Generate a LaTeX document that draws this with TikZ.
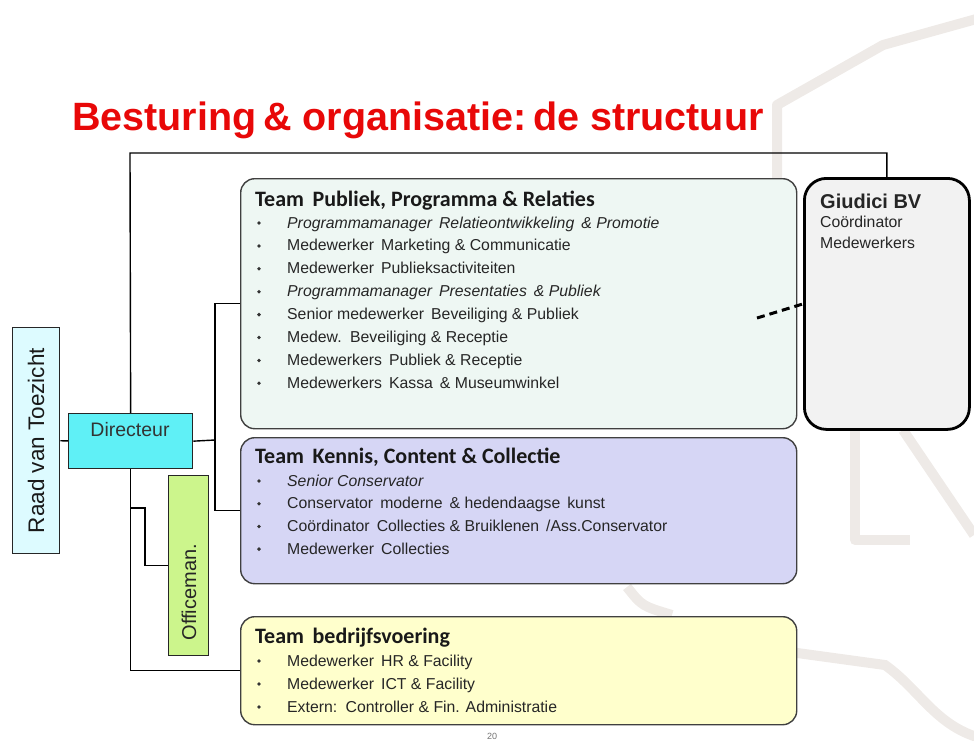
\documentclass[tikz,border=0pt]{standalone}
\usepackage{fontspec}
\setmainfont{Liberation Sans}
\newfontfamily\hdfont{Carlito}
\usetikzlibrary{calc}

\definecolor{titlered}{RGB}{232,8,8}
\definecolor{wmgray}{RGB}{238,234,231}
\definecolor{pubfill}{RGB}{238,247,243}
\definecolor{kenfill}{RGB}{214,214,245}
\definecolor{bedfill}{RGB}{255,255,204}
\definecolor{giufill}{RGB}{242,242,242}
\definecolor{raadfill}{RGB}{221,251,255}
\definecolor{dirfill}{RGB}{95,240,246}
\definecolor{offfill}{RGB}{204,245,140}

\tikzset{
  teambox/.style={draw=black!75,line width=1.4pt,rounded corners=14pt,anchor=north west,inner sep=0pt},
  smallbox/.style={draw=black!85,line width=1.3pt,anchor=north west,inner sep=0pt},
  teamhead/.style={anchor=base west,inner sep=0pt,font=\hdfont\bfseries\fontsize{22}{24}\selectfont,text=black!90},
  item/.style={anchor=base west,inner sep=0pt,font=\fontsize{15.8}{17}\selectfont,text=black!85},
  dot/.style={circle,fill=black!80,inner sep=0pt,minimum size=3.8pt},
  link/.style={line width=1.4pt,black}
}

\begin{document}
\begin{tikzpicture}[x=1pt,y=-1pt]
\useasboundingbox (0,0) rectangle (974,740);

% watermark in the back
\draw[wmgray,line width=10pt,line join=round] (777,180) -- (777,105) -- (883,45) -- (980,18);
\draw[wmgray,line width=10pt,line join=round] (855,430) -- (855,540) -- (910,540);
\draw[wmgray,line width=10pt] (903,430) -- (974,535);
\draw[wmgray,line width=10pt] (627,587) .. controls (642,606) .. (672,615);
\draw[wmgray,line width=10pt] (790,652) -- (885,665) .. controls (920,690) and (935,725) .. (980,738);

% title
\node[anchor=base west,inner sep=0pt,text=titlered,font=\bfseries\fontsize{39.5}{42}\selectfont] (title) at (72,130) {Besturing\,\& organisatie:\,de structuur};

% boxes
\node[teambox,fill=pubfill,minimum width=556pt,minimum height=250pt] (pub) at (240,178) {};
\node[teambox,fill=kenfill,minimum width=556pt,minimum height=146pt] (ken) at (240,437) {};
\node[teambox,fill=bedfill,minimum width=556pt,minimum height=108pt] (bed) at (240,616) {};
\node[draw=black,line width=2.8pt,rounded corners=22pt,anchor=north west,inner sep=0pt,fill=giufill,minimum width=165pt,minimum height=251pt] (giu) at (803,177) {};

\node[smallbox,fill=raadfill,minimum width=47pt,minimum height=226pt] (raad) at (12,327) {};
\node[rotate=90,font=\fontsize{22.5}{24}\selectfont,text=black!90] (raadtxt) at (raad.center) {Raad van Toezicht};
\node[smallbox,fill=dirfill,minimum width=124pt,minimum height=55pt] (dir) at (68,413) {};
\node[font=\fontsize{19.5}{21}\selectfont,text=black!80] (dirtxt) at (130,430) {Directeur};
\node[smallbox,fill=offfill,minimum width=40pt,minimum height=180pt] (off) at (168,475) {};
\node[rotate=90,anchor=west,font=\fontsize{20}{22}\selectfont,text=black!85] (offtxt) at (189,644) {Officeman.};

% connectors
\coordinate (topbar) at (130,153);
\coordinate (split) at (215,440);
\coordinate (offbranch) at (130,508);
\coordinate (dashend) at (757,318);
\draw[link] (raad) -- (dir);
\draw[link] (dir.north) -- (topbar) -| (giu.north);
\draw[link] (dir.south) |- (bed.west);
\draw[link] (dir.east) -- (split);
\draw[link] (pub.west) -| (split) |- (ken.west);
\draw[link] (offbranch) -- ++(15,0) |- (off.west);
\draw[black,line width=3pt,dash pattern=on 8pt off 5pt] (dashend) -- (giu.west);

% team texts
\node[teamhead] (pubhead) at (255,206) {Team\, Publiek, Programma \& Relaties};
\foreach \txt [count=\i] in {{\itshape Programmamanager\, Relatieontwikkeling\, \& Promotie},
    Medewerker\, Marketing \& Communicatie,
    Medewerker\, Publieksactiviteiten,
    {\itshape Programmamanager\, Presentaties\, \& Publiek},
    Senior medewerker\, Beveiliging \& Publiek,
    Medew.\, Beveiliging \& Receptie,
    Medewerkers\, Publiek \& Receptie,
    Medewerkers\, Kassa\, \& Museumwinkel}
  {
  \node[dot] (pubdot\i) at (259,{223+22.9*(\i-1)}) {};
  \node[item] (pubitem\i) at (287,{228+22.9*(\i-1)}) {\txt};
  }

\node[teamhead] (kenhead) at (255,463) {Team\, Kennis, Content \& Collectie};
\foreach \txt [count=\i] in {{\itshape Senior Conservator},
    Conservator\, moderne\, \& hedendaagse\, kunst,
    Coördinator\, Collecties \& Bruiklenen\, /Ass.Conservator,
    Medewerker\, Collecties}
  {
  \node[dot] (kendot\i) at (259,{481+22.7*(\i-1)}) {};
  \node[item] (kenitem\i) at (287,{486+22.7*(\i-1)}) {\txt};
  }

\node[teamhead] (bedhead) at (255,643) {Team\, bedrijfsvoering};
\foreach \txt [count=\i] in {Medewerker\, HR \& Facility,
    Medewerker\, ICT \& Facility,
    Extern:\, Controller \& Fin. Administratie}
  {
  \node[dot] (beddot\i) at (259,{661+23*(\i-1)}) {};
  \node[item] (beditem\i) at (287,{666+23*(\i-1)}) {\txt};
  }

\node[anchor=base west,inner sep=0pt,font=\bfseries\fontsize{20}{22}\selectfont,text=black!85] (giuhead) at (820,208) {Giudici BV};
\node[item] (giuitem1) at (820,227) {Coördinator};
\node[item] (giuitem2) at (820,248) {Medewerkers};

\node[font=\fontsize{9}{10}\selectfont,text=black!55] (pagenr) at (492,736) {20};
\end{tikzpicture}
\end{document}
